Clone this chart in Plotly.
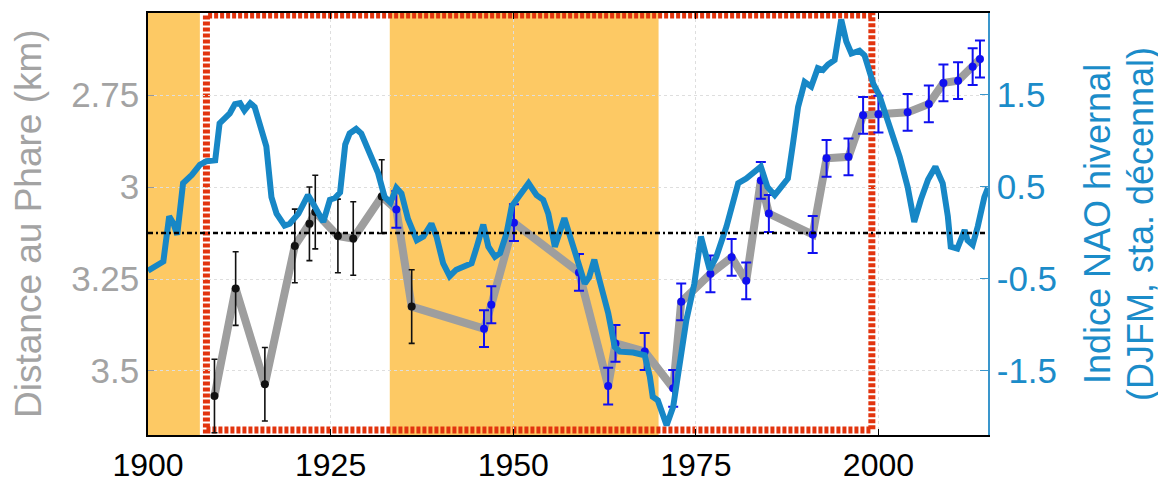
import plotly.graph_objects as go

# ---------------- data ----------------
nao_years = [1900.0, 1902.1, 1902.9, 1903.5, 1904.0, 1904.8, 1906.0, 1907.1, 1908.0, 1909.2,
             1909.8, 1910.5, 1911.2, 1911.9, 1912.6, 1913.2, 1914.0, 1914.6, 1915.3, 1916.2,
             1916.9, 1917.6, 1918.7, 1919.4, 1920.6, 1921.9, 1922.6, 1924.0, 1924.9, 1925.6,
             1926.3, 1927.0, 1927.6, 1928.5, 1929.2, 1930.4, 1931.5, 1932.4, 1933.2, 1934.0,
             1934.7, 1935.6, 1936.8, 1937.7, 1938.8, 1939.5, 1940.4, 1941.3, 1942.2, 1943.1,
             1944.3, 1944.9, 1945.9, 1946.6, 1947.5, 1948.2, 1949.1, 1949.8, 1950.4, 1951.3,
             1952.1, 1953.2, 1954.1, 1954.8, 1955.7, 1957.0, 1958.1, 1959.1, 1959.8, 1960.4,
             1961.1, 1961.8, 1963.0, 1963.9, 1964.6, 1966.4, 1968.0, 1968.7, 1969.1, 1969.8,
             1971.0, 1971.9, 1972.8, 1973.7, 1974.8, 1975.7, 1976.9, 1977.8, 1979.2, 1980.8,
             1981.9, 1983.0, 1983.9, 1984.8, 1985.8, 1986.7, 1987.6, 1988.3, 1989.0, 1989.9,
             1990.8, 1991.7, 1992.4, 1993.1, 1994.0, 1994.9, 1995.6, 1996.3, 1997.4, 1998.1,
             1998.8, 1999.3, 2000.1, 2001.5, 2002.9, 2004.0, 2004.9, 2005.8, 2006.8, 2007.8,
             2008.8, 2009.5, 2009.9, 2010.8, 2011.8, 2012.2, 2012.9, 2013.6, 2014.5, 2015.0]
nao_values = [-0.41, -0.31, 0.18, 0.10, -0.02, 0.54, 0.63, 0.74, 0.78, 0.79,
              1.19, 1.24, 1.30, 1.40, 1.41, 1.33, 1.41, 1.37, 1.16, 0.94,
              0.39, 0.21, 0.08, 0.10, 0.21, 0.41, 0.32, 0.12, 0.36, 0.38,
              0.44, 0.96, 1.08, 1.13, 1.08, 0.85, 0.65, 0.39, 0.33, 0.49,
              0.43, 0.15, -0.08, -0.04, 0.10, -0.04, -0.33, -0.47, -0.40, -0.37,
              -0.33, -0.18, 0.09, -0.15, -0.26, -0.22, 0.00, 0.29, 0.36, 0.47,
              0.54, 0.41, 0.36, 0.21, -0.15, 0.16, -0.11, -0.33, -0.55, -0.48,
              -0.29, -0.51, -0.87, -1.24, -1.29, -1.30, -1.33, -1.56, -1.78, -1.82,
              -2.09, -1.89, -1.45, -0.95, -0.55, -0.04, -0.40, -0.26, 0.07, 0.54,
              0.59, 0.67, 0.72, 0.50, 0.41, 0.50, 0.59, 0.97, 1.37, 1.64,
              1.59, 1.79, 1.77, 1.83, 1.88, 2.32, 2.08, 1.95, 1.98, 1.93,
              1.74, 1.62, 1.50, 1.16, 0.83, 0.50, 0.12, 0.36, 0.58, 0.72,
              0.54, 0.18, -0.15, -0.17, 0.03, -0.08, -0.13, 0.07, 0.39, 0.49]

dist_years = [1909.1, 1912.0, 1916.0, 1920.1, 1922.1, 1922.9, 1926.0, 1928.1, 1932.0, 1934.0,
              1936.1, 1946.0, 1947.0, 1950.1, 1959.0, 1963.0, 1964.0, 1968.0, 1971.9, 1973.0,
              1977.0, 1979.9, 1981.9, 1983.9, 1985.0, 1991.0, 1992.9, 1995.9, 1997.9, 2000.0,
              2004.0, 2006.9, 2008.9, 2010.9, 2012.9, 2013.9]
dist_km = [3.568, 3.276, 3.536, 3.160, 3.100, 3.068, 3.133, 3.140, 3.026, 3.061,
           3.325, 3.385, 3.320, 3.097, 3.232, 3.541, 3.425, 3.447, 3.547, 3.312,
           3.236, 3.191, 3.255, 2.982, 3.072, 3.129, 2.922, 2.918, 2.805, 2.802,
           2.797, 2.774, 2.717, 2.711, 2.673, 2.652]
dist_source = ["k", "k", "k", "k", "k", "k", "k", "k", "k", "b",
               "k", "b", "b", "b", "b", "b", "b", "b", "b", "b",
               "b", "b", "b", "b", "b", "b", "b", "b", "b", "b",
               "b", "b", "b", "b", "b", "b"]
dist_err = [0.10 if s == "k" else 0.05 for s in dist_source]

x_ticks = [1900, 1925, 1950, 1975, 2000]
left_ticks = [2.75, 3.0, 3.25, 3.5]
left_ticktext = ["2.75", "3", "3.25", "3.5"]
right_ticks = [1.5, 0.5, -0.5, -1.5]
right_ticktext = ["1.5", "0.5", "-0.5", "-1.5"]

shaded_periods = [(1900.0, 1907.1), (1933.1, 1969.9)]
highlight_period = (1908.0, 1999.1)

# ---------------- styles ----------------
FONT = "Liberation Sans, Arial, sans-serif"
GRAY_TXT = "#a3a3a3"
BLUE_TXT = "#1b8cc9"
NAO_BLUE = "#1787c6"
PT_BLUE = "#1010f0"
ORANGE = "#fdc964"
RED = "#e2340e"

fig = go.Figure()

# gray connecting line
fig.add_trace(go.Scatter(x=dist_years, y=dist_km, mode="lines",
                         line=dict(color="#9e9e9e", width=8), yaxis="y",
                         hoverinfo="skip", showlegend=False))

for src, col, cap, thick, msize in [("k", "#111111", 3, 1.6, 8), ("b", PT_BLUE, 5, 2, 8)]:
    xs = [x for x, s in zip(dist_years, dist_source) if s == src]
    ys = [y for y, s in zip(dist_km, dist_source) if s == src]
    es = [e for e, s in zip(dist_err, dist_source) if s == src]
    fig.add_trace(go.Scatter(x=xs, y=ys, mode="markers",
                             marker=dict(color=col, size=msize),
                             error_y=dict(type="data", array=es, visible=True,
                                          color=col, thickness=thick, width=cap),
                             yaxis="y", showlegend=False))

# NAO line on right axis
fig.add_trace(go.Scatter(x=nao_years, y=nao_values, mode="lines",
                         line=dict(color=NAO_BLUE, width=6), yaxis="y2",
                         showlegend=False))

shapes = []
for x0, x1 in shaded_periods:
    shapes.append(dict(type="rect", xref="x", yref="paper", x0=x0, x1=x1, y0=0, y1=1,
                       fillcolor=ORANGE, line=dict(width=0), layer="below"))
shapes.append(dict(type="rect", xref="x", yref="paper",
                   x0=highlight_period[0], x1=highlight_period[1], y0=0.012, y1=0.995,
                   line=dict(color=RED, width=7, dash="4px,2px"), layer="between"))
shapes.append(dict(type="line", xref="paper", yref="y2", x0=0, x1=1, y0=0, y1=0,
                   line=dict(color="black", width=2.5, dash="5px,3px,2px,3px"), layer="above"))

# page body has an 8px margin: compensate so the plot lands where the reference has it
fig.update_layout(
    width=1158, height=475,
    margin=dict(l=140, r=178, t=5, b=48, autoexpand=False),
    paper_bgcolor="white", plot_bgcolor="white",
    font=dict(family=FONT),
    shapes=shapes,
    xaxis=dict(range=[1900, 2015], tickvals=x_ticks, showgrid=True, automargin=False,
               gridcolor="#dedede", griddash="dot", gridwidth=1,
               showline=True, linecolor="black", linewidth=1.5, mirror="ticks",
               ticks="inside", ticklen=6, tickcolor="black", ticklabelstandoff=1,
               tickfont=dict(size=32, color="black"), zeroline=False),
    yaxis=dict(range=[3.674, 2.527], tickvals=left_ticks, ticktext=left_ticktext,
               showgrid=True, gridcolor="#dedede", griddash="dot", gridwidth=1,
               showline=True, linecolor="black", linewidth=1.5, automargin=False,
               ticks="inside", ticklen=6, tickcolor="#999999",
               tickfont=dict(size=35, color=GRAY_TXT), zeroline=False),
    yaxis2=dict(range=[-2.196, 2.39], tickvals=right_ticks, ticktext=right_ticktext,
                overlaying="y", side="right", showgrid=False, zeroline=False,
                showline=True, linecolor="#3a96cc", linewidth=1.5, automargin=False,
                ticks="inside", ticklen=8, tickcolor="#3a96cc",
                tickfont=dict(size=35, color=BLUE_TXT)),
    annotations=[
        dict(text="Distance au Phare (km)", xref="paper", yref="paper", x=0, y=0.5,
             xanchor="center", yanchor="middle", xshift=-120, textangle=-90,
             showarrow=False, font=dict(size=37, color=GRAY_TXT)),
        dict(text="Indice NAO hivernal", xref="paper", yref="paper",
             x=1, y=0.5, xanchor="center", yanchor="middle", xshift=109, textangle=-90,
             showarrow=False, font=dict(size=36, color=BLUE_TXT)),
        dict(text="(DJFM, sta. décennal)", xref="paper", yref="paper",
             x=1, y=0.5, xanchor="center", yanchor="middle", xshift=152, textangle=-90,
             showarrow=False, font=dict(size=36, color=BLUE_TXT)),
    ],
)

fig.write_html("out.html")
